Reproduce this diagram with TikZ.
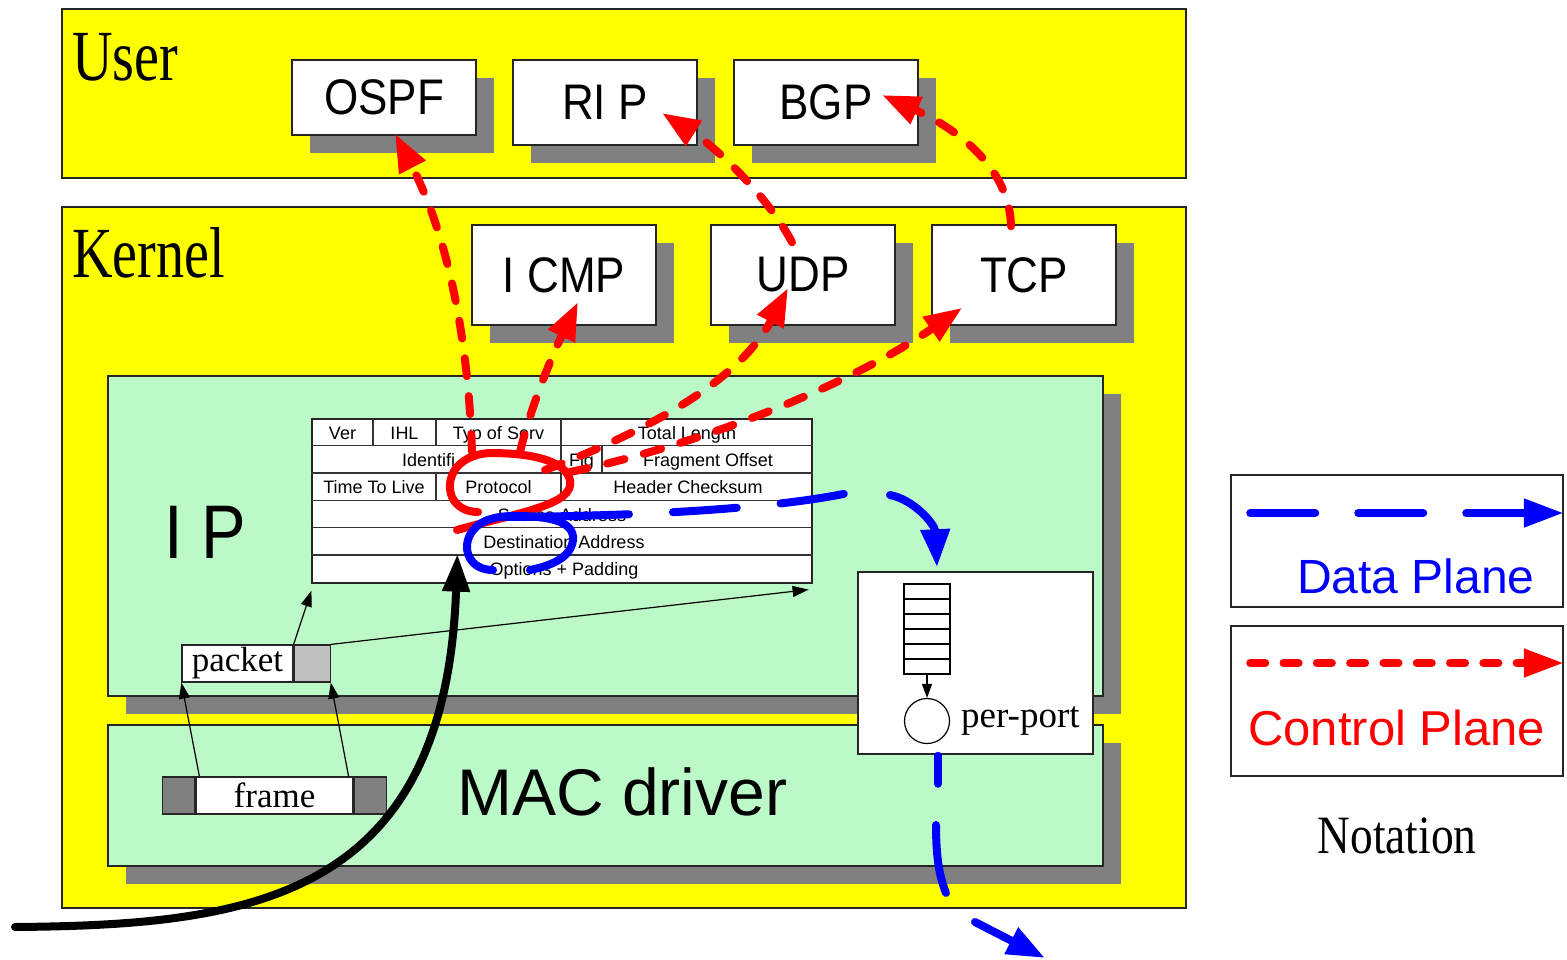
\documentclass[tikz,border=0pt]{standalone}
\usepackage{fontspec}
\setmainfont{Liberation Serif}
\setsansfont{Liberation Sans}
\usepackage{graphicx}
\usepackage{xcolor}
\usetikzlibrary{arrows.meta,positioning,calc,shadows}
\definecolor{layeryellow}{RGB}{255,255,0}
\definecolor{ipgreen}{RGB}{187,249,200}
\definecolor{shadowgray}{RGB}{128,128,128}
\definecolor{tailgray}{RGB}{192,192,192}
\newcommand{\narrowtxt}[2][0.88]{\scalebox{#1}[1]{#2}}
\tikzset{
  layerbox/.style  ={draw=black!85,line width=1.5pt,fill=layeryellow,inner sep=0pt},
  modbox/.style    ={draw=black!85,line width=1.5pt,fill=ipgreen,inner sep=0pt,
                     drop shadow={shadow xshift=18pt,shadow yshift=-18pt,fill=shadowgray,opacity=1}},
  protobox/.style  ={draw=black!85,line width=1.5pt,fill=white,inner sep=0pt,minimum width=184pt,
                     font=\sffamily\fontsize{50}{50}\selectfont,
                     drop shadow={shadow xshift=18pt,shadow yshift=-18pt,fill=shadowgray,opacity=1}},
  plainbox/.style  ={draw=black!85,line width=1.5pt,fill=white,inner sep=0pt},
  hdrtxt/.style    ={font=\sffamily\fontsize{18}{18}\selectfont,inner sep=0pt,text height=13pt,text depth=0pt},
  cellline/.style  ={draw=black!80,line width=1.2pt},
  pktbox/.style    ={draw=black!85,line width=1.2pt,inner sep=0pt,minimum height=37pt,
                     font=\fontsize{35}{35}\selectfont},
  qcell/.style     ={draw,line width=1.2pt,fill=white,minimum width=46pt,minimum height=15pt,inner sep=0pt},
  biglbl/.style    ={anchor=base west,inner sep=0pt},
  thinarrow/.style ={-{Triangle[length=16pt,width=11pt]},line width=1.2pt},
  ctrlflow/.style  ={red,line width=8pt,line cap=round,dash pattern=on 18pt off 20pt},
  ctrltip/.style   ={-{Triangle[length=38pt,width=28pt]}},
  dataflow/.style  ={blue,line width=8pt,line cap=round},
  datatip/.style   ={-{Triangle[length=38pt,width=28pt]}},
  wire/.style      ={black,line width=8pt,line cap=round,-{Triangle[length=38pt,width=26pt]}},
}
\begin{document}
\begin{tikzpicture}[x=1pt,y=-1pt]
\fill[white] (0,0) rectangle (1567,959);
\useasboundingbox (0,0) rectangle (1567,959);
% ---- layers ----
\node[layerbox,minimum width=1124pt,minimum height=169pt] (user)   at (624,93.5)  {};
\node[layerbox,minimum width=1124pt,minimum height=701pt] (kernel) at (624,557.5) {};
\node[biglbl,font=\fontsize{72}{72}\selectfont] (userlbl)   at (72,80)  {\narrowtxt[0.78]{User}};
\node[biglbl,font=\fontsize{72}{72}\selectfont] (kernellbl) at (72,277) {\narrowtxt[0.78]{Kernel}};
% ---- protocol modules ----
\node[protobox,minimum height=75pt]  (ospf) at (384,97.5)  {\narrowtxt{OSPF}};
\node[protobox,minimum height=85pt]  (rip)  at (605,102.5) {\narrowtxt{RI P}};
\node[protobox,minimum height=85pt]  (bgp)  at (826,102.5) {\narrowtxt{BGP}};
\node[protobox,minimum height=100pt] (icmp) at (564,275)   {\narrowtxt{I CMP}};
\node[protobox,minimum height=100pt] (udp)  at (803,275)   {\narrowtxt{UDP}};
\node[protobox,minimum height=100pt] (tcp)  at (1024,275)  {\narrowtxt{TCP}};
% ---- IP and MAC ----
\node[modbox,minimum width=995pt,minimum height=320pt] (ip)  at (605.5,536)   {};
\node[modbox,minimum width=995pt,minimum height=141pt] (mac) at (605.5,795.5) {};
\node[biglbl,font=\sffamily\fontsize{76}{76}\selectfont] (iplbl)  at (164,558) {\narrowtxt{I P}};
\node[biglbl,font=\sffamily\fontsize{66}{66}\selectfont] (maclbl) at (457,815) {MAC driver};
% ---- IP header ----
\node[plainbox,line width=1.2pt,minimum width=500pt,minimum height=164pt] (hdr) at (562,501) {};
\foreach \r in {1,...,5}
  \draw[cellline] ($(hdr.north west)+(0,{27.33*\r})$) -- ($(hdr.north east)+(0,{27.33*\r})$);
\foreach \x/\ya/\yb in {373/419/446.3,436/419/446.3,561/419/501,602/446.3/473.7,436/473.7/501}
  \draw[cellline] (\x,\ya) -- (\x,\yb);
\foreach \n/\x/\y/\t in {ver/342.5/432.7/Ver,ihl/404.5/432.7/IHL,tos/498.5/432.7/Typ of Serv,
    totlen/687/432.7/Total Length,flg/581.5/460/Flg,fragoff/708/460/Fragment Offset,
    ttl/374/487.3/Time To Live,proto/498.5/487.3/Protocol,chksum/688/487.3/Header Checksum,
    srcaddr/562/514.7/Source Address,dstaddr/564/542/Destination Address,opts/564/569.3/Options + Padding}
  \node[hdrtxt] (\n) at (\x,\y) {\t};
\node[hdrtxt,anchor=west] (ident) at (402,460) {Identifi};
% ---- packet and frame ----
\node[pktbox,fill=white,minimum width=111pt] (pkt) at (237.5,663.5) {packet};
\node[pktbox,fill=tailgray,minimum width=36pt,right=0pt of pkt] (pkttail) {};
\node[pktbox,fill=white,minimum width=157pt] (frm) at (274.5,795.5) {frame};
\node[pktbox,fill=shadowgray,minimum width=32pt,left=0pt of frm]  (frmhd) {};
\node[pktbox,fill=shadowgray,minimum width=32pt,right=0pt of frm] (frmtl) {};
\draw[thinarrow] ($(frm.north west)+(4,0)$)  -- (pkt.south west);
\draw[thinarrow] ($(frm.north east)+(-5,0)$) -- (pkttail.south east);
\draw[thinarrow] (pkt.north east)     -- ($(hdr.south west)+(0,7)$);
\draw[thinarrow] (pkttail.north east) -- ($(hdr.south east)+(-4,6)$);
% ---- per-port queue ----
\node[plainbox,minimum width=235pt,minimum height=182pt] (port) at (975.5,663) {};
\foreach \i in {1,...,6} \node[qcell] (q\i) at (927,{576.5+15*\i}) {};
\node[circle,draw,line width=1.2pt,fill=white,minimum size=45pt,inner sep=0pt] (sched) at (927,721) {};
\draw[-{Triangle[length=14pt,width=10pt]},line width=1.2pt] (q6.south) -- (sched.north);
\node[biglbl,font=\fontsize{37}{37}\selectfont] (portlbl) at (961,727) {per-port};
% ---- control plane ----
\draw[red,line width=8pt,line cap=round] (457,530) .. controls (520,512) and (575,505) .. (570,480)
  .. controls (565,460) and (530,453) .. (490,453) .. controls (455,455) and (445,480) .. (452,497)
  .. controls (457,508) and (468,512) .. (478,512);
\draw[ctrlflow,ctrltip] (472,452) .. controls (468,330) and (445,230) .. ($(ospf.south)+(11,-2)$);
\draw[ctrlflow,ctrltip] (520,452) .. controls (530,410) and (550,360) .. ($(icmp.center)+(14,27)$);
\draw[ctrlflow,ctrltip] (545,470) .. controls (650,430) and (740,380) .. ($(udp.center)+(-15,13)$);
\draw[ctrlflow,ctrltip] (570,472) .. controls (700,445) and (850,385) .. ($(tcp.south west)+(31,-18)$);
\draw[ctrlflow,ctrltip] ($(udp.north)+(-11,18)$) .. controls (770,200) and (720,150) .. ($(rip.center)+(57,10.5)$);
\draw[ctrlflow,ctrltip] ($(tcp.north)+(-13,2)$) .. controls (1010,170) and (960,130) .. ($(bgp.center)+(56,-7.5)$);
% ---- data plane ----
\draw[dataflow] (493,570) .. controls (470,570) and (462,550) .. (470,535)
  .. controls (478,520) and (495,516) .. (515,516) .. controls (545,516) and (575,520) .. (573,540)
  .. controls (571,558) and (550,566) .. (530,570);
\draw[dataflow,dash pattern=on 124pt off 44pt on 64pt off 44pt on 64pt off 200pt]
  (505,517) .. controls (650,516) and (780,508) .. (853,492);
\draw[dataflow,datatip] (890,495) .. controls (915,500) and (935,525) .. ($(port.north)+(-38.5,-4)$);
\draw[dataflow] ($(port.south)+(-37.5,1)$) -- ++(0,28);
\draw[dataflow] (936,825) .. controls (936,860) and (940,878) .. (946,893);
\coordinate (dataout) at (1045,958);
\draw[dataflow,datatip] (975,922) -- (dataout);
% ---- incoming wire ----
\coordinate (wirein) at (15,927);
\draw[wire] (wirein) .. controls (250,925) and (445,900) .. ($(hdr.south west)+(146,-30)$);
% ---- notation ----
\node[plainbox,minimum width=332pt,minimum height=132pt] (legdata) at (1397,541) {};
\node[plainbox,minimum width=332pt,minimum height=150pt] (legctrl) at (1397,701) {};
\draw[dataflow,-{Triangle[length=40pt,width=27pt]},dash pattern=on 65pt off 43pt]
  ($(legdata.west)+(20,-28)$) -- ($(legdata.east)+(0,-28)$);
\draw[ctrlflow,-{Triangle[length=40pt,width=27pt]},dash pattern=on 15pt off 18.3pt]
  ($(legctrl.west)+(20,-38)$) -- ($(legctrl.east)+(0,-38)$);
\node[biglbl,text=blue,font=\sffamily\fontsize{48}{48}\selectfont] (datalbl) at (1297,593) {Data Plane};
\node[biglbl,text=red,font=\sffamily\fontsize{49}{49}\selectfont]  (ctrllbl) at (1248,745) {Control Plane};
\node[anchor=base,inner sep=0pt,font=\fontsize{54}{54}\selectfont] (notelbl) at (1397,853) {\narrowtxt[0.84]{Notation}};
\end{tikzpicture}
\end{document}
